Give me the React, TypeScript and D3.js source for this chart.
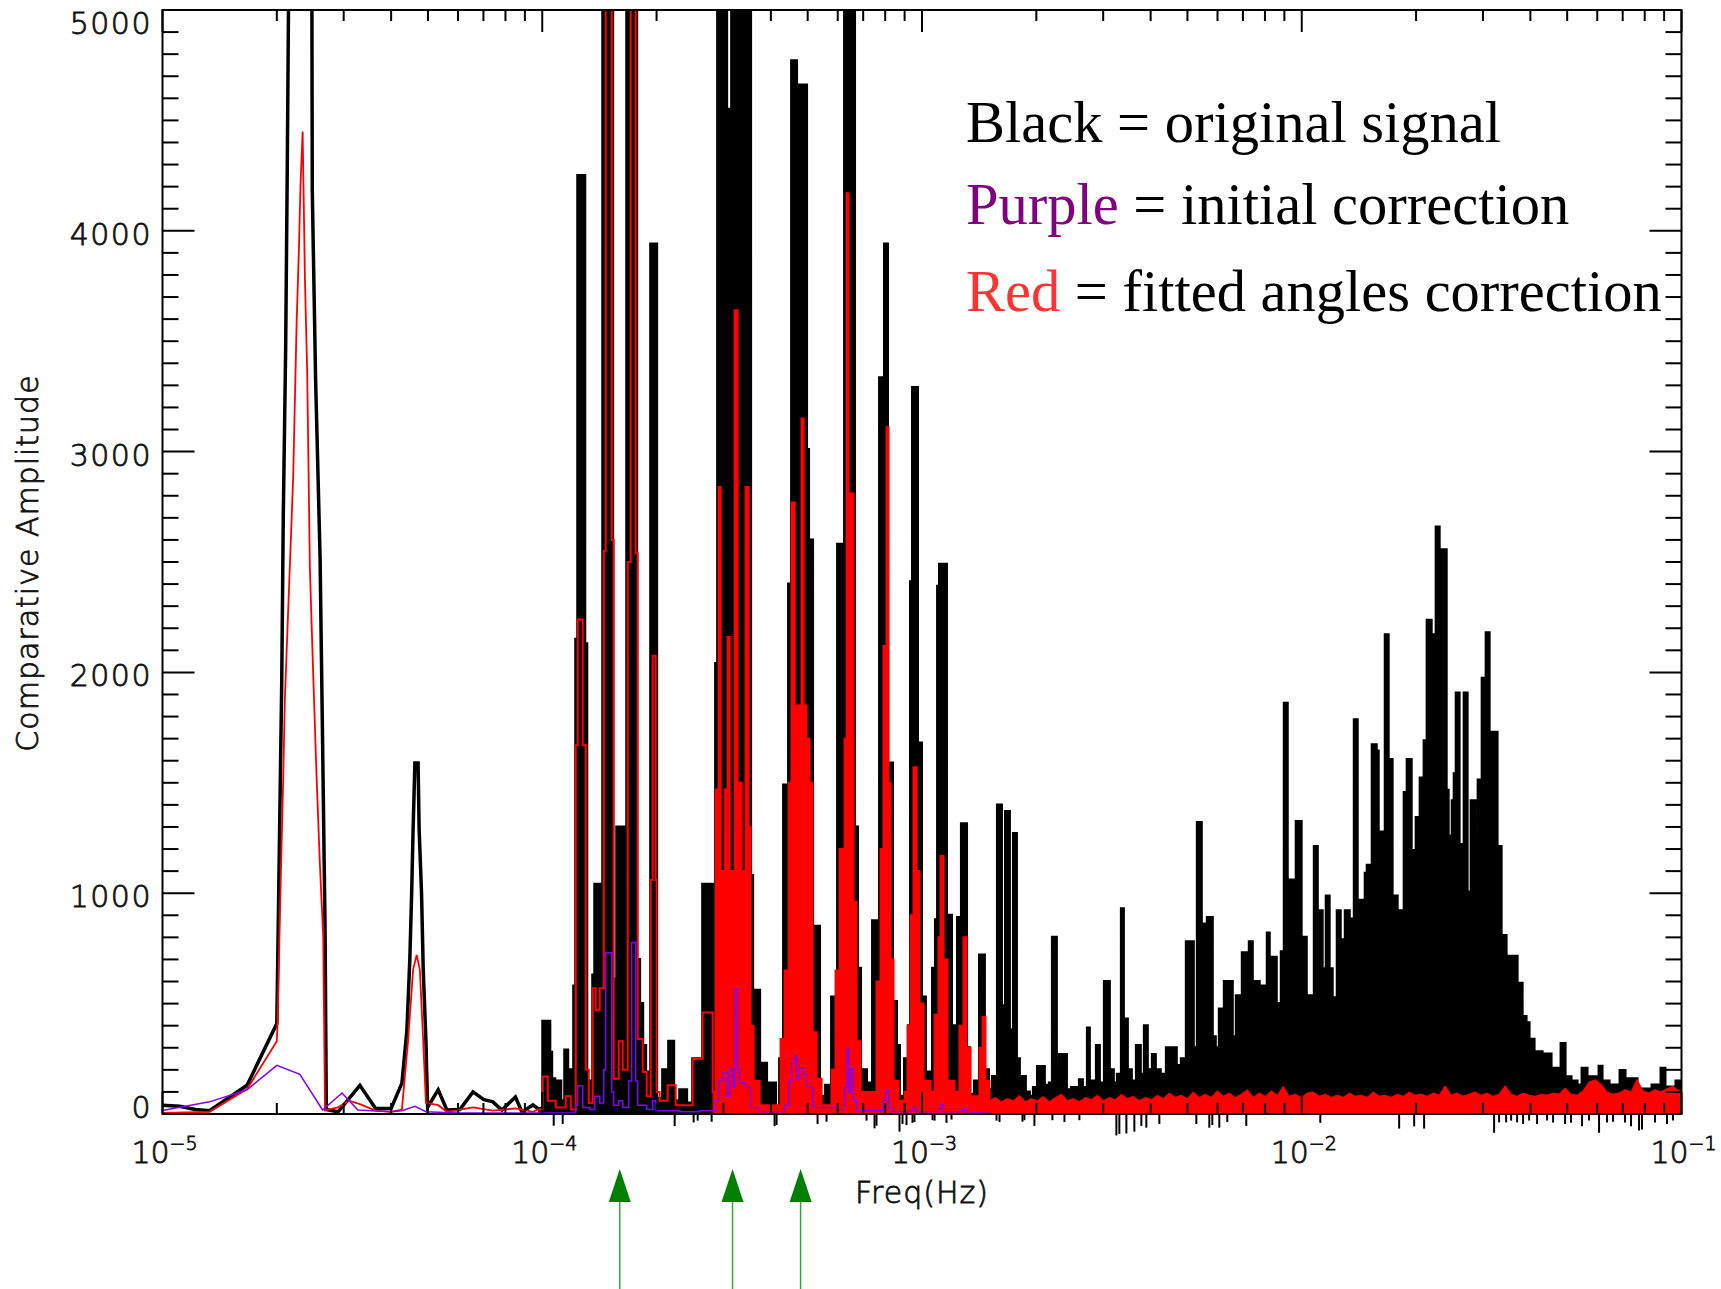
import React from 'react';
import * as d3 from 'd3';

type P = [number, number];

// ---------- axis / label data ----------
const xMajorTicks = [1e-5, 1e-4, 1e-3, 1e-2, 1e-1];
const xMajorExp = ['\u22125', '\u22124', '\u22123', '\u22122', '\u22121'];
const yMajorTicks = [0, 1000, 2000, 3000, 4000, 5000];
const yTitle = 'Comparative Amplitude';
const xTitle = 'Freq(Hz)';
const arrowFreqs = [1.6e-4, 3.17e-4, 4.79e-4];
// red mass is drawn solid from this frequency on (dense clusters)
const redSolidFrom = 2.81e-4;

// ---------- black: original signal ----------
const blackLow: P[] = [
  [1.0e-5, 40], [1.11e-5, 35], [1.22e-5, 20], [1.33e-5, 15], [1.67e-5, 130], [2.0e-5, 410],
  [2.03e-5, 1180], [2.06e-5, 1940], [2.08e-5, 2710], [2.11e-5, 3460], [2.13e-5, 4250],
  [2.16e-5, 5600], [2.3e-5, 7000], [2.47e-5, 5600], [2.48e-5, 4180], [2.53e-5, 3330],
  [2.6e-5, 2520], [2.64e-5, 1680], [2.68e-5, 830], [2.7e-5, 20], [2.9e-5, 10], [3.31e-5, 130],
  [3.64e-5, 25], [4.0e-5, 25], [4.27e-5, 140], [4.4e-5, 376], [4.48e-5, 700], [4.53e-5, 1000],
  [4.57e-5, 1290], [4.62e-5, 1590], [4.71e-5, 1590], [4.74e-5, 1290], [4.81e-5, 1000],
  [4.86e-5, 650], [4.94e-5, 330], [4.99e-5, 30], [5.32e-5, 110], [5.61e-5, 18], [6.07e-5, 20],
  [6.57e-5, 100], [7.02e-5, 65], [7.41e-5, 55], [7.83e-5, 18], [8.5e-5, 77], [8.84e-5, 9],
  [9.45e-5, 41], [9.73e-5, 25],
];

const blackHigh: P[] = [
  [9.73e-5, 25], [1.003e-4, 420], [1.047e-4, 280], [1.059e-4, 160], [1.079e-4, 90], [1.098e-4, 150],
  [1.119e-4, 60], [1.146e-4, 290], [1.167e-4, 200], [1.189e-4, 40], [1.21e-4, 580], [1.225e-4, 2150],
  [1.24e-4, 4250], [1.294e-4, 2130], [1.31e-4, 150], [1.334e-4, 60], [1.358e-4, 630], [1.375e-4, 1040],
  [1.443e-4, 6500], [1.533e-4, 610], [1.571e-4, 1300], [1.669e-4, 6500], [1.773e-4, 700],
  [1.805e-4, 500], [1.839e-4, 310], [1.872e-4, 190], [1.93e-4, 3940], [2.001e-4, 70], [2.075e-4, 200],
  [2.152e-4, 330], [2.219e-4, 60], [2.301e-4, 110], [2.4e-4, 50], [2.489e-4, 250], [2.645e-4, 1040],
  [2.81e-4, 400], [2.861e-4, 2040], [2.896e-4, 6500], [3.059e-4, 4550], [3.153e-4, 6500],
  [3.309e-4, 2980], [3.35e-4, 6500], [3.537e-4, 1080], [3.581e-4, 560], [3.736e-4, 230],
  [3.897e-4, 140], [4.116e-4, 30], [4.217e-4, 250], [4.32e-4, 1490], [4.453e-4, 2400],
  [4.535e-4, 4770], [4.674e-4, 3270], [4.76e-4, 4660], [4.966e-4, 3010], [5.027e-4, 2600],
  [5.15e-4, 850], [5.373e-4, 80], [5.573e-4, 130], [5.779e-4, 530], [5.993e-4, 2580],
  [6.253e-4, 6500], [6.367e-4, 2885], [6.445e-4, 6500], [6.643e-4, 1300], [6.765e-4, 660],
  [6.889e-4, 200], [7.144e-4, 140], [7.409e-4, 875], [7.73e-4, 3335], [7.967e-4, 3940],
  [8.113e-4, 1590], [8.363e-4, 510], [8.569e-4, 310], [8.725e-4, 80], [8.994e-4, 250],
  [9.215e-4, 400], [9.327e-4, 2410], [9.44e-4, 3290], [9.731e-4, 1680], [9.97e-4, 530],
  [1.021e-3, 190], [1.066e-3, 660], [1.085e-3, 880], [1.099e-3, 2390], [1.112e-3, 2490],
  [1.16e-3, 900], [1.196e-3, 400], [1.24e-3, 890], [1.27e-3, 1315], [1.31e-3, 300], [1.334e-3, 90],
  [1.375e-3, 150], [1.417e-3, 720], [1.46e-3, 200], [1.496e-3, 110], [1.533e-3, 170], [1.58e-3, 1400],
  [1.619e-3, 490], [1.659e-3, 1370], [1.699e-3, 380], [1.741e-3, 1270], [1.773e-3, 250],
  [1.805e-3, 170], [1.872e-3, 100], [1.918e-3, 80], [1.965e-3, 120], [2.014e-3, 215], [2.1e-3, 130],
  [2.165e-3, 140], [2.205e-3, 800], [2.259e-3, 200], [2.301e-3, 270], [2.401e-3, 110], [2.475e-3, 120],
  [2.597e-3, 155], [2.645e-3, 120], [2.726e-3, 390], [2.759e-3, 150], [2.879e-3, 310], [2.932e-3, 140],
  [3.022e-3, 600], [3.115e-3, 200], [3.191e-3, 140], [3.269e-3, 180], [3.35e-3, 930], [3.391e-3, 430],
  [3.474e-3, 200], [3.559e-3, 150], [3.669e-3, 310], [3.758e-3, 180], [3.851e-3, 400], [3.921e-3, 200],
  [4.042e-3, 270], [4.116e-3, 200], [4.242e-3, 180], [4.4e-3, 300], [4.674e-3, 220], [4.818e-3, 250],
  [4.966e-3, 780], [5.182e-3, 300], [5.309e-3, 1320], [5.439e-3, 860], [5.539e-3, 300], [5.64e-3, 890],
  [5.814e-3, 350], [5.921e-3, 300], [6.066e-3, 475], [6.253e-3, 600], [6.563e-3, 350], [6.724e-3, 535],
  [6.847e-3, 400], [6.973e-3, 730], [7.188e-3, 450], [7.275e-3, 780], [7.409e-3, 600], [7.73e-3, 580],
  [8.113e-3, 820], [8.212e-3, 710], [8.569e-3, 500], [8.832e-3, 735], [8.994e-3, 1860], [9.159e-3, 1060],
  [9.553e-3, 500], [9.67e-3, 1325], [9.965e-3, 800], [1.028e-2, 526], [1.047e-2, 536], [1.079e-2, 1212],
  [1.099e-2, 921], [1.132e-2, 658], [1.16e-2, 987], [1.181e-2, 658], [1.203e-2, 526], [1.24e-2, 921],
  [1.263e-2, 677], [1.278e-2, 789], [1.302e-2, 921], [1.334e-2, 883], [1.375e-2, 1785], [1.4e-2, 808],
  [1.425e-2, 968], [1.469e-2, 1090], [1.487e-2, 1127], [1.533e-2, 1672], [1.571e-2, 1644],
  [1.59e-2, 1202], [1.619e-2, 1277], [1.659e-2, 2170], [1.689e-2, 1606], [1.73e-2, 987],
  [1.784e-2, 921], [1.828e-2, 799], [1.861e-2, 1456], [1.895e-2, 1606], [1.942e-2, 1193],
  [2.001e-2, 1343], [2.05e-2, 1522], [2.1e-2, 1691], [2.139e-2, 2236], [2.192e-2, 2170],
  [2.232e-2, 2067], [2.259e-2, 2659], [2.301e-2, 2320], [2.343e-2, 2555], [2.401e-2, 1466],
  [2.43e-2, 1259], [2.49e-2, 1419], [2.52e-2, 1541], [2.551e-2, 1907], [2.597e-2, 1221],
  [2.677e-2, 1907], [2.726e-2, 1005], [2.793e-2, 1419], [2.861e-2, 1231], [2.914e-2, 1513],
  [2.986e-2, 1973], [3.059e-2, 2180], [3.115e-2, 1437], [3.172e-2, 1729], [3.269e-2, 1212],
  [3.35e-2, 808], [3.453e-2, 658], [3.516e-2, 714], [3.691e-2, 592], [3.805e-2, 442], [3.897e-2, 413],
  [3.969e-2, 338], [4.091e-2, 225], [4.166e-2, 282], [4.295e-2, 272], [4.535e-2, 207], [4.76e-2, 150],
  [4.818e-2, 319], [4.937e-2, 169], [5.119e-2, 150], [5.309e-2, 131], [5.472e-2, 207], [5.64e-2, 169],
  [5.957e-2, 140], [6.066e-2, 216], [6.177e-2, 150], [6.445e-2, 131], [6.889e-2, 197], [7.101e-2, 160],
  [7.454e-2, 160], [7.636e-2, 113], [8.363e-2, 131], [8.832e-2, 207], [9.048e-2, 122], [9.67e-2, 150],
  [9.905e-2, 150], [1.0e-1, 150],
];

const blackDips: P[] = [
  [1.072e-4, -53], [1.132e-4, -45], [2.232e-4, -55], [2.504e-4, -38], [2.566e-4, -30], [2.793e-4, -35],
  [4.091e-4, -55], [4.141e-4, -50], [5.309e-4, -45], [5.606e-4, -35], [7.144e-4, -30], [7.499e-4, -65],
  [7.59e-4, -53], [8.725e-4, -80], [8.886e-4, -45], [9.103e-4, -50], [9.44e-4, -40], [9.553e-4, -36],
  [1.066e-3, -28], [1.079e-3, -30], [1.16e-3, -40], [1.196e-3, -25], [1.571e-3, -30], [1.6e-3, -36],
  [1.839e-3, -35], [1.861e-3, -28], [1.977e-3, -54], [2.205e-3, -28], [2.372e-3, -36], [2.597e-3, -28],
  [3.25e-3, -97], [3.309e-3, -90], [3.453e-3, -88], [3.624e-3, -80], [3.781e-3, -54], [3.897e-3, -62],
  [4.217e-3, -45], [5.277e-3, -45], [5.709e-3, -62], [5.814e-3, -50], [6.066e-3, -62], [6.367e-3, -36],
  [7.144e-3, -54], [1.119e-2, -40], [1.805e-2, -66], [1.977e-2, -56], [2.1e-2, -66], [3.21e-2, -85],
  [3.309e-2, -38], [3.453e-2, -38], [3.559e-2, -30], [3.691e-2, -38], [3.827e-2, -45], [3.969e-2, -30],
  [4.166e-2, -45], [4.426e-2, -30], [4.59e-2, -38], [4.937e-2, -45], [5.119e-2, -40], [5.472e-2, -56],
  [5.709e-2, -30], [6.066e-2, -85], [6.367e-2, -38], [6.603e-2, -35], [7.101e-2, -38], [7.364e-2, -56],
  [7.73e-2, -75], [7.871e-2, -70], [8.517e-2, -38], [9.159e-2, -45], [9.498e-2, -30],
];

// ---------- red: fitted angles correction ----------
const redLow: P[] = [
  [1.0e-5, 5], [1.33e-5, 10], [1.67e-5, 113], [2.0e-5, 330], [2.01e-5, 420], [2.044e-5, 1000],
  [2.079e-5, 1520], [2.1e-5, 1880], [2.135e-5, 2210], [2.172e-5, 2550], [2.209e-5, 2890],
  [2.255e-5, 3580], [2.287e-5, 3920], [2.31e-5, 4220], [2.339e-5, 4450], [2.372e-5, 3780],
  [2.405e-5, 3350], [2.444e-5, 2470], [2.494e-5, 1990], [2.546e-5, 1520], [2.597e-5, 1130],
  [2.65e-5, 800], [2.679e-5, 16], [2.9e-5, 30], [3.1e-5, 60], [3.31e-5, 45], [3.64e-5, 15],
  [4.0e-5, 10], [4.27e-5, 20], [4.43e-5, 327], [4.57e-5, 654], [4.67e-5, 720], [4.76e-5, 654],
  [4.86e-5, 327], [4.94e-5, 50], [5.32e-5, 40], [5.61e-5, 10], [6.57e-5, 30], [7.41e-5, 15],
  [8.5e-5, 25], [9.45e-5, 10], [9.73e-5, 20],
];

const redHigh: P[] = [
  [9.73e-5, 20], [1.003e-4, 170], [1.034e-4, 60], [1.085e-4, 30], [1.153e-4, 80], [1.189e-4, 20],
  [1.225e-4, 1670], [1.24e-4, 2240], [1.278e-4, 1670], [1.302e-4, 200], [1.326e-4, 50], [1.358e-4, 570],
  [1.383e-4, 470], [1.417e-4, 570], [1.452e-4, 2550], [1.469e-4, 6500], [1.524e-4, 2600], [1.542e-4, 160],
  [1.59e-4, 330], [1.629e-4, 200], [1.679e-4, 2500], [1.71e-4, 6500], [1.762e-4, 2540], [1.784e-4, 340],
  [1.839e-4, 190], [1.884e-4, 80], [1.93e-4, 1060], [1.953e-4, 2075], [1.989e-4, 1060], [2.001e-4, 100],
  [2.038e-4, 60], [2.139e-4, 130], [2.246e-4, 40], [2.489e-4, 250], [2.645e-4, 460], [2.81e-4, 100],
  [2.861e-4, 1470], [2.914e-4, 2840], [2.949e-4, 1100], [3.022e-4, 1470], [3.077e-4, 2160],
  [3.115e-4, 1100], [3.21e-4, 3640], [3.269e-4, 1500], [3.35e-4, 1100], [3.432e-4, 2840],
  [3.495e-4, 1300], [3.537e-4, 400], [3.602e-4, 150], [3.736e-4, 40], [4.242e-4, 340], [4.347e-4, 650],
  [4.453e-4, 1500], [4.535e-4, 2770], [4.618e-4, 1850], [4.76e-4, 1700], [4.818e-4, 3150],
  [4.877e-4, 1850], [4.966e-4, 1700], [5.057e-4, 1500], [5.15e-4, 370], [5.277e-4, 160], [5.439e-4, 40],
  [5.779e-4, 200], [5.921e-4, 650], [6.066e-4, 1200], [6.253e-4, 1700], [6.329e-4, 4170],
  [6.406e-4, 1700], [6.484e-4, 2810], [6.603e-4, 960], [6.724e-4, 330], [6.889e-4, 100], [7.409e-4, 100],
  [7.59e-4, 600], [7.776e-4, 1200], [7.919e-4, 2120], [8.016e-4, 1500], [8.065e-4, 3110],
  [8.163e-4, 1500], [8.262e-4, 700], [8.413e-4, 150], [8.673e-4, 60], [8.994e-4, 100], [9.159e-4, 400],
  [9.327e-4, 900], [9.497e-4, 1570], [9.672e-4, 1100], [9.849e-4, 500], [1.009e-3, 150], [1.053e-3, 100],
  [1.079e-3, 450], [1.105e-3, 800], [1.119e-3, 1170], [1.139e-3, 700], [1.167e-3, 150], [1.218e-3, 100],
  [1.255e-3, 400], [1.286e-3, 800], [1.31e-3, 300], [1.342e-3, 80], [1.383e-3, 80], [1.417e-3, 300],
  [1.443e-3, 440], [1.469e-3, 150], [1.505e-3, 60],
];

const redFloor: P[] = [
  [1.505e-3, 60], [1.561e-3, 75], [1.619e-3, 55], [1.679e-3, 70], [1.741e-3, 60], [1.805e-3, 85],
  [1.872e-3, 55], [1.942e-3, 70], [2.014e-3, 60], [2.088e-3, 80], [2.165e-3, 55], [2.246e-3, 75],
  [2.329e-3, 90], [2.415e-3, 60], [2.505e-3, 70], [2.597e-3, 55], [2.693e-3, 75], [2.793e-3, 65],
  [2.896e-3, 85], [3.004e-3, 60], [3.115e-3, 75], [3.23e-3, 65], [3.35e-3, 90], [3.474e-3, 70],
  [3.602e-3, 80], [3.736e-3, 60], [3.874e-3, 75], [4.018e-3, 65], [4.166e-3, 85], [4.321e-3, 70],
  [4.481e-3, 95], [4.646e-3, 75], [4.818e-3, 85], [4.996e-3, 70], [5.182e-3, 100], [5.373e-3, 75],
  [5.573e-3, 90], [5.779e-3, 75], [5.993e-3, 105], [6.215e-3, 80], [6.445e-3, 95], [6.683e-3, 75],
  [6.931e-3, 90], [7.188e-3, 110], [7.454e-3, 75], [7.73e-3, 95], [8.016e-3, 80], [8.312e-3, 105],
  [8.621e-3, 85], [8.94e-3, 125], [9.27e-3, 80], [9.611e-3, 90], [9.965e-3, 75], [1.034e-2, 95],
  [1.072e-2, 100], [1.112e-2, 80], [1.153e-2, 90], [1.196e-2, 75], [1.24e-2, 85], [1.286e-2, 75],
  [1.334e-2, 95], [1.383e-2, 80], [1.434e-2, 85], [1.487e-2, 75], [1.542e-2, 100], [1.6e-2, 80],
  [1.659e-2, 85], [1.72e-2, 75], [1.784e-2, 90], [1.85e-2, 80], [1.918e-2, 100], [1.989e-2, 85],
  [2.063e-2, 90], [2.139e-2, 80], [2.219e-2, 95], [2.301e-2, 85], [2.386e-2, 128], [2.475e-2, 85],
  [2.566e-2, 95], [2.661e-2, 80], [2.759e-2, 90], [2.861e-2, 100], [2.967e-2, 85], [3.077e-2, 95],
  [3.191e-2, 80], [3.309e-2, 90], [3.432e-2, 128], [3.559e-2, 90], [3.691e-2, 80], [3.827e-2, 95],
  [3.969e-2, 85], [4.116e-2, 80], [4.269e-2, 90], [4.426e-2, 85], [4.59e-2, 95], [4.76e-2, 90],
  [4.937e-2, 118], [5.119e-2, 90], [5.309e-2, 85], [5.505e-2, 105], [5.709e-2, 145], [5.921e-2, 155],
  [6.14e-2, 135], [6.367e-2, 100], [6.603e-2, 90], [6.847e-2, 95], [7.101e-2, 110], [7.364e-2, 100],
  [7.636e-2, 156], [7.919e-2, 105], [8.212e-2, 95], [8.517e-2, 110], [8.832e-2, 100], [9.159e-2, 115],
  [9.498e-2, 125], [9.847e-2, 105], [1.0e-1, 110],
];

// ---------- purple: initial correction ----------
const purpleLow: P[] = [
  [1.0e-5, 16], [1.33e-5, 55], [1.67e-5, 110], [2.0e-5, 220], [2.3e-5, 180], [2.64e-5, 18],
  [2.97e-5, 95], [3.27e-5, 18], [4.0e-5, 10], [4.27e-5, 15], [4.62e-5, 35], [4.94e-5, 10],
  [6.0e-5, 5], [9.73e-5, 5],
];

const purpleHigh: P[] = [
  [9.73e-5, 5], [1.225e-4, 40], [1.24e-4, 128], [1.278e-4, 30], [1.334e-4, 20], [1.375e-4, 80],
  [1.417e-4, 50], [1.452e-4, 200], [1.469e-4, 730], [1.524e-4, 100], [1.542e-4, 40], [1.59e-4, 60],
  [1.629e-4, 30], [1.689e-4, 150], [1.72e-4, 777], [1.762e-4, 150], [1.784e-4, 40], [1.884e-4, 20],
  [1.953e-4, 60], [1.989e-4, 15], [2.301e-4, 10], [2.597e-4, 15], [2.861e-4, 60], [2.914e-4, 150],
  [2.986e-4, 189], [3.059e-4, 80], [3.115e-4, 204], [3.172e-4, 120], [3.21e-4, 566], [3.269e-4, 200],
  [3.309e-4, 140], [3.432e-4, 120], [3.537e-4, 30], [3.736e-4, 10], [4.347e-4, 40], [4.453e-4, 150],
  [4.535e-4, 230], [4.618e-4, 264], [4.674e-4, 160], [4.76e-4, 210], [4.877e-4, 180], [4.966e-4, 120],
  [5.15e-4, 30], [5.993e-4, 20], [6.253e-4, 120], [6.329e-4, 294], [6.406e-4, 100], [6.484e-4, 204],
  [6.603e-4, 60], [6.724e-4, 15], [7.919e-4, 60], [8.016e-4, 106], [8.163e-4, 30], [8.363e-4, 10],
  [9.327e-4, 15], [9.44e-4, 30], [9.672e-4, 10], [1.105e-3, 20], [1.119e-3, 45], [1.139e-3, 10],
  [1.255e-3, 15], [1.286e-3, 25], [1.31e-3, 5], [1.505e-3, 5],
];

// ---------- legend ----------
const legendItems = [
  { key: 'Black', color: '#000000', rest: ' = original signal' },
  { key: 'Purple', color: '#800080', rest: ' = initial correction' },
  { key: 'Red', color: '#ff3333', rest: ' = fitted angles correction' },
];

const W = 1721;
const H = 1289;
const M = { left: 162.5, right: 1681.5, top: 10, bottom: 1114 };

export default function App() {
  const x = d3.scaleLog().domain([1e-5, 1e-1]).range([M.left, M.right]);
  const y = d3.scaleLinear().domain([0, 5000]).range([M.bottom, M.top]);

  const lin = d3.line<P>().x((d) => x(d[0])).y((d) => y(d[1]));
  const step = d3.line<P>().x((d) => x(d[0])).y((d) => y(d[1])).curve(d3.curveStepAfter);
  const stepArea = d3
    .area<P>()
    .x((d) => x(d[0]))
    .y0(y(0))
    .y1((d) => y(d[1]))
    .curve(d3.curveStepAfter);
  const linArea = d3
    .area<P>()
    .x((d) => x(d[0]))
    .y0(y(0))
    .y1((d) => y(d[1]));

  const redSolid = redHigh.filter((d) => d[0] >= redSolidFrom);

  const yMinor = d3.range(0, 5001, 100).filter((v) => v % 1000 !== 0);
  const xMinor: number[] = [];
  for (let e = -5; e <= -2; e++) for (let k = 2; k <= 9; k++) xMinor.push(k * Math.pow(10, e));

  const majLenY = 32;
  const minLenY = 16;
  const majLenX = 22;
  const minLenX = 11;

  const axisText = {
    fontFamily: '"DejaVu Sans", sans-serif',
    fontWeight: 300,
    fill: '#111',
    stroke: '#111',
    strokeWidth: 0.8,
  } as const;

  return (
    <div style={{ position: 'absolute', left: 0, top: 0, width: W, height: H, background: '#fff' }}>
      <svg width={W} height={H} viewBox={`0 0 ${W} ${H}`} style={{ display: 'block', background: '#fff' }}>
        <defs>
          <clipPath id="plotClip">
            <rect x={M.left} y={M.top} width={M.right - M.left} height={M.bottom - M.top + 40} />
          </clipPath>
        </defs>

        <g clipPath="url(#plotClip)">
          {/* black series */}
          <path d={lin(blackLow) || ''} fill="none" stroke="#000" strokeWidth={3.5} strokeLinejoin="miter" />
          <path d={stepArea(blackHigh) || ''} fill="#000" stroke="none" />
          <path d={step(blackHigh) || ''} fill="none" stroke="#000" strokeWidth={3} />
          {blackDips.map((d, i) => (
            <line key={'dip' + i} x1={x(d[0])} x2={x(d[0])} y1={y(0)} y2={y(d[1])} stroke="#000" strokeWidth={2} />
          ))}

          {/* red series */}
          <path d={lin(redLow) || ''} fill="none" stroke="#ff0000" strokeWidth={1.8} />
          <path d={stepArea(redSolid) || ''} fill="#ff0000" stroke="none" />
          <path d={step(redHigh) || ''} fill="none" stroke="#ff0000" strokeWidth={2} />
          <path d={linArea(redFloor) || ''} fill="#ff0000" stroke="#ff0000" strokeWidth={1} />

          {/* purple series */}
          <path d={lin(purpleLow) || ''} fill="none" stroke="#8000ff" strokeWidth={1.5} />
          <path d={step(purpleHigh) || ''} fill="none" stroke="#8000ff" strokeWidth={1.5} />
        </g>

        {/* frame */}
        <rect
          x={M.left}
          y={M.top}
          width={M.right - M.left}
          height={M.bottom - M.top}
          fill="none"
          stroke="#000"
          strokeWidth={2}
        />

        {/* y ticks left & right */}
        {yMajorTicks.map((v) => (
          <g key={'ym' + v}>
            <line x1={M.left} x2={M.left + majLenY} y1={y(v)} y2={y(v)} stroke="#000" strokeWidth={2} />
            <line x1={M.right} x2={M.right - majLenY} y1={y(v)} y2={y(v)} stroke="#000" strokeWidth={2} />
          </g>
        ))}
        {yMinor.map((v) => (
          <g key={'yn' + v}>
            <line x1={M.left} x2={M.left + minLenY} y1={y(v)} y2={y(v)} stroke="#000" strokeWidth={2} />
            <line x1={M.right} x2={M.right - minLenY} y1={y(v)} y2={y(v)} stroke="#000" strokeWidth={2} />
          </g>
        ))}

        {/* x ticks bottom & top */}
        {xMajorTicks.map((f) => (
          <g key={'xm' + f}>
            <line x1={x(f)} x2={x(f)} y1={M.bottom} y2={M.bottom - majLenX} stroke="#000" strokeWidth={2} />
            <line x1={x(f)} x2={x(f)} y1={M.top} y2={M.top + majLenX} stroke="#000" strokeWidth={2} />
          </g>
        ))}
        {xMinor.map((f) => (
          <g key={'xn' + f}>
            <line x1={x(f)} x2={x(f)} y1={M.bottom} y2={M.bottom - minLenX} stroke="#000" strokeWidth={2} />
            <line x1={x(f)} x2={x(f)} y1={M.top} y2={M.top + minLenX} stroke="#000" strokeWidth={2} />
          </g>
        ))}

        {/* y tick labels */}
        {yMajorTicks.map((v) => {
          const cy = Math.min(Math.max(y(v) + 3, M.top + 13), M.bottom - 7);
          return (
            <text key={'yl' + v} x={152} y={cy + 11} textAnchor="end" fontSize={30} letterSpacing={1.5} {...axisText}>
              {String(v)}
            </text>
          );
        })}

        {/* x tick labels */}
        {xMajorTicks.map((f, i) => (
          <text key={'xl' + f} x={x(f) + 2} y={1163} textAnchor="middle" fontSize={30} {...axisText}>
            10
            <tspan fontSize={19} dy={-13}>
              {xMajorExp[i]}
            </tspan>
          </text>
        ))}

        {/* axis titles */}
        <text x={922} y={1203} textAnchor="middle" fontSize={30} letterSpacing={1} {...axisText}>
          {xTitle}
        </text>
        <text
          transform={`translate(38, 563) rotate(-90)`}
          textAnchor="middle"
          fontSize={30}
          letterSpacing={1}
          {...axisText}
        >
          {yTitle}
        </text>

        {/* legend */}
        {legendItems.map((it, i) => (
          <text
            key={'lg' + i}
            x={966}
            y={[142, 224, 311][i]}
            fontFamily='"Liberation Serif", "Times New Roman", serif'
            fontSize={58.5}
            fill="#000"
          >
            <tspan fill={it.color}>{it.key}</tspan>
            <tspan fill="#000">{it.rest}</tspan>
          </text>
        ))}

        {/* green arrows */}
        {arrowFreqs.map((f, i) => {
          const ax = x(f);
          return (
            <g key={'ar' + i}>
              <line x1={ax} x2={ax} y1={1200} y2={H} stroke="#3f9f3f" strokeWidth={1.5} />
              <path d={`M${ax},1169 L${ax - 11},1202 L${ax + 11},1202 Z`} fill="#008000" />
            </g>
          );
        })}
      </svg>
    </div>
  );
}
